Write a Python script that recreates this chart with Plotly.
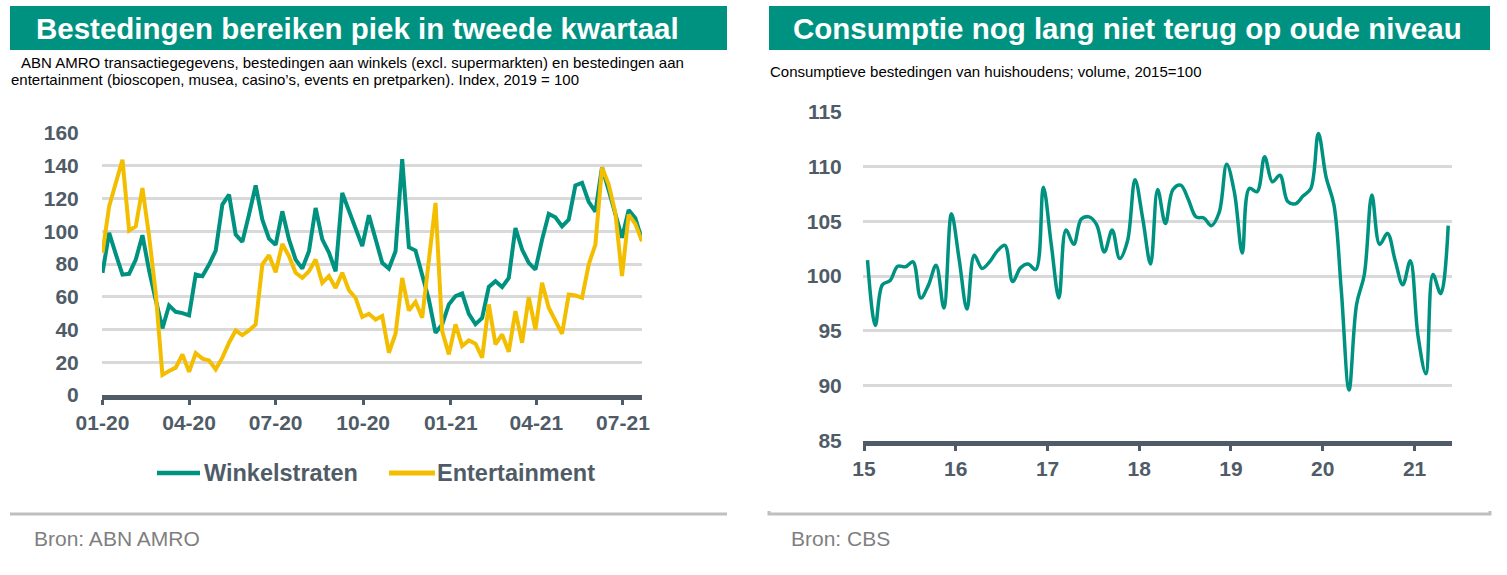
import pandas as pd
import plotly.graph_objects as go

W, H = 1507, 575

# ---------------- data: left chart (weekly, index 2019 = 100) ----------------
left_start = "2020-01-01"
winkelstraten = [
    74.6, 99.0, 86.0, 73.5, 74.0, 82.7, 97.6, 76.0, 58.0, 40.7,
    54.7, 50.8, 50.0, 48.6, 73.6, 72.6, 79.7, 88.2, 116.3, 122.4,
    98.0, 93.5, 110.2, 128.0, 107.1, 95.5, 91.7, 112.2, 95.0, 82.7,
    77.2, 87.8, 114.2, 95.0, 87.0, 75.6, 123.4, 112.6, 101.0, 90.9,
    109.8, 95.0, 80.7, 77.2, 87.8, 144.1, 90.2, 88.2, 73.6, 58.3,
    38.0, 43.1, 55.3, 60.4, 62.0, 49.5, 43.2, 47.0, 66.0, 69.5,
    65.9, 71.5, 102.0, 88.8, 80.7, 76.6, 94.9, 110.6, 108.5, 103.0,
    107.1, 128.0, 129.5, 118.0, 112.0, 139.0, 125.0, 110.0, 96.0, 113.0,
    108.0, 94.5,
]
entertainment = [
    86.8, 115.2, 129.5, 143.7, 100.4, 103.0, 126.4, 97.0, 62.0, 12.2,
    14.6, 16.7, 24.8, 14.2, 25.6, 22.2, 21.1, 15.7, 22.8, 31.9,
    39.4, 36.6, 39.4, 43.1, 79.7, 85.4, 75.0, 92.3, 84.8, 74.6,
    71.5, 75.6, 82.7, 68.5, 72.6, 65.4, 74.6, 64.0, 59.3, 47.6,
    49.6, 46.1, 48.2, 25.8, 37.4, 71.5, 51.6, 56.9, 47.2, 84.0,
    117.3, 39.0, 24.8, 43.1, 29.9, 33.3, 31.3, 22.8, 55.3, 30.9,
    37.0, 26.4, 51.2, 31.9, 59.8, 40.0, 68.5, 53.3, 45.1, 37.4,
    61.4, 60.8, 59.3, 79.7, 91.9, 139.0, 128.5, 111.2, 72.6, 110.2,
    104.5, 93.9,
]
left_series_names = ["Winkelstraten", "Entertainment"]
left_tick_dates = ["2020-01-01", "2020-04-01", "2020-07-01", "2020-10-01",
                   "2021-01-01", "2021-04-01", "2021-07-01"]
left_tick_text = ["01-20", "04-20", "07-20", "10-20", "01-21", "04-21", "07-21"]
left_y_ticks = [0, 20, 40, 60, 80, 100, 120, 140, 160]

# ---------------- data: right chart (monthly, volume 2015 = 100) ----------------
right_start = "2015-01-01"
consumptie = [
    101.45, 95.5, 99.2, 99.6, 100.9, 100.85, 101.3, 98.0, 99.2, 101.0, 97.1, 105.7,
    101.5, 97.0, 101.9, 100.7, 101.3, 102.3, 102.8, 99.5, 100.75, 101.1, 100.6, 108.1,
    103.0, 98.0, 104.2, 102.9, 105.2, 105.4, 104.7, 102.2, 104.2, 101.6, 103.2, 108.8,
    105.2, 101.1, 107.9, 104.8, 107.9, 108.3, 107.0, 105.4, 105.3, 104.6, 105.8, 110.2,
    107.6, 102.1, 108.0, 107.7, 110.9, 108.6, 109.2, 106.8, 106.6, 107.3, 108.0, 113.0,
    109.0, 106.5, 98.8, 89.6, 97.4, 100.15, 107.4, 102.9, 103.9, 101.5, 99.2, 101.4,
    94.5, 91.1, 100.15, 98.4, 104.6,
]
right_tick_dates = ["2015-01-01", "2016-01-01", "2017-01-01", "2018-01-01",
                    "2019-01-01", "2020-01-01", "2021-01-01"]
right_tick_text = ["15", "16", "17", "18", "19", "20", "21"]
right_y_ticks = [85, 90, 95, 100, 105, 110, 115]

# ---------------- styling ----------------
TEAL = "#009281"
YELLOW = "#F3BE00"
AXC = "#4F5C67"
GRID = "#D9D9D9"
FOOT = "#BFBFBF"
FONT = "Liberation Sans, Arial, sans-serif"


def px(x):
    return x / W


def py(y):
    return 1 - y / H


weeks = pd.date_range(left_start, periods=len(winkelstraten), freq="7D")
months = pd.date_range(right_start, periods=len(consumptie), freq="MS") + pd.Timedelta(days=14)

fig = go.Figure()
fig.add_trace(go.Scatter(x=weeks, y=winkelstraten, name=left_series_names[0], mode="lines",
                         line=dict(color=TEAL, width=4), xaxis="x", yaxis="y", showlegend=False))
fig.add_trace(go.Scatter(x=weeks, y=entertainment, name=left_series_names[1], mode="lines",
                         line=dict(color=YELLOW, width=4), xaxis="x", yaxis="y", showlegend=False))
fig.add_trace(go.Scatter(x=months, y=consumptie, name="Consumptieve bestedingen",
                         mode="lines", showlegend=False,
                         line=dict(color=TEAL, width=3.5, shape="spline", smoothing=1.0),
                         xaxis="x2", yaxis="y2"))

tickfont = dict(family=FONT, size=21, color=AXC, weight="bold")

shapes = [
    # title bands
    dict(type="rect", xref="paper", yref="paper", x0=px(10), x1=px(727), y0=py(50), y1=py(6),
         fillcolor=TEAL, line=dict(width=0), layer="below"),
    dict(type="rect", xref="paper", yref="paper", x0=px(769), x1=px(1490), y0=py(50), y1=py(6),
         fillcolor=TEAL, line=dict(width=0), layer="below"),
    # footer separators
    dict(type="line", xref="paper", yref="paper", x0=px(10), x1=px(727), y0=py(514), y1=py(514),
         line=dict(color=FOOT, width=3)),
    dict(type="path", xref="paper", yref="paper",
         path=f"M{px(769)},{py(511)} L{px(769)},{py(514)} L{px(1490)},{py(514)} L{px(1490)},{py(511)}",
         line=dict(color=FOOT, width=3)),
    # legend keys
    dict(type="line", xref="paper", yref="paper", x0=px(157), x1=px(200), y0=py(473), y1=py(473),
         line=dict(color=TEAL, width=4.5)),
    dict(type="line", xref="paper", yref="paper", x0=px(389), x1=px(435), y0=py(473), y1=py(473),
         line=dict(color=YELLOW, width=5)),
]

annotations = [
    dict(text="<b>Bestedingen bereiken piek in tweede kwartaal</b>", x=px(357), y=py(29),
         xanchor="center", yanchor="middle", font=dict(family=FONT, size=29.5, color="white")),
    dict(text="<b>Consumptie nog lang niet terug op oude niveau</b>", x=px(1127), y=py(29),
         xanchor="center", yanchor="middle", font=dict(family=FONT, size=29.5, color="white")),
    dict(text="ABN AMRO transactiegegevens, bestedingen aan winkels (excl. supermarkten) en bestedingen aan",
         x=px(19), y=py(63), xanchor="left", yanchor="middle",
         font=dict(family=FONT, size=15, color="black")),
    dict(text="entertainment (bioscopen, musea, casino’s, events en pretparken). Index, 2019 = 100",
         x=px(9), y=py(80), xanchor="left", yanchor="middle",
         font=dict(family=FONT, size=15, color="black")),
    dict(text="Consumptieve bestedingen van huishoudens; volume, 2015=100",
         x=px(768), y=py(71), xanchor="left", yanchor="middle",
         font=dict(family=FONT, size=15, color="black")),
    dict(text="<b>" + left_series_names[0] + "</b>", x=px(202), y=py(473), xanchor="left",
         yanchor="middle", font=dict(family=FONT, size=23.5, color=AXC)),
    dict(text="<b>" + left_series_names[1] + "</b>", x=px(435), y=py(473), xanchor="left",
         yanchor="middle", font=dict(family=FONT, size=23.5, color=AXC)),
    dict(text="Bron: ABN AMRO", x=px(32), y=py(538), xanchor="left", yanchor="middle",
         font=dict(family=FONT, size=21, color="#7F7F7F")),
    dict(text="Bron: CBS", x=px(789), y=py(538), xanchor="left", yanchor="middle",
         font=dict(family=FONT, size=21, color="#7F7F7F")),
]
for a in annotations:
    a.update(xref="paper", yref="paper", showarrow=False)

fig.update_layout(
    template="none",
    width=W, height=H, autosize=False,
    margin=dict(l=0, r=0, t=0, b=0, pad=0, autoexpand=False),
    paper_bgcolor="white", plot_bgcolor="white",
    font=dict(family=FONT, color=AXC),
    showlegend=False,
    xaxis=dict(domain=[px(102), px(642)], type="date", automargin=False,
               range=["2019-12-31 12:00", "2021-07-21"],
               tickmode="array", tickvals=left_tick_dates, ticktext=left_tick_text,
               showline=True, linewidth=5, linecolor=AXC,
               ticks="outside", ticklen=5, tickwidth=3, tickcolor=AXC,
               showgrid=False, zeroline=False, tickfont=tickfont, anchor="y"),
    yaxis=dict(domain=[py(395), py(133)], range=[0, 160], automargin=False,
               tickmode="array", tickvals=left_y_ticks,
               showgrid=True, gridcolor=GRID, gridwidth=2.5, zeroline=False,
               showline=False, ticks="outside", ticklen=18, tickcolor="rgba(0,0,0,0)",
               tickfont=tickfont, anchor="x"),
    xaxis2=dict(domain=[px(863), px(1452)], type="date", automargin=False,
                range=["2014-12-28", "2021-05-30"],
                tickmode="array", tickvals=right_tick_dates, ticktext=right_tick_text,
                showline=True, linewidth=5, linecolor=AXC,
                ticks="outside", ticklen=5, tickwidth=3, tickcolor=AXC,
                showgrid=False, zeroline=False, tickfont=tickfont, anchor="y2"),
    yaxis2=dict(domain=[py(440.5), py(111.7)], range=[85, 115], automargin=False,
                tickmode="array", tickvals=right_y_ticks,
                showgrid=True, gridcolor=GRID, gridwidth=2.5, zeroline=False,
                showline=False, ticks="outside", ticklen=16, tickcolor="rgba(0,0,0,0)",
                tickfont=tickfont, anchor="x2"),
    shapes=shapes,
    annotations=annotations,
)

fig.write_html("out.html", config={"displayModeBar": False},
               post_script="document.body.style.margin='0';document.body.style.overflow='hidden';")
